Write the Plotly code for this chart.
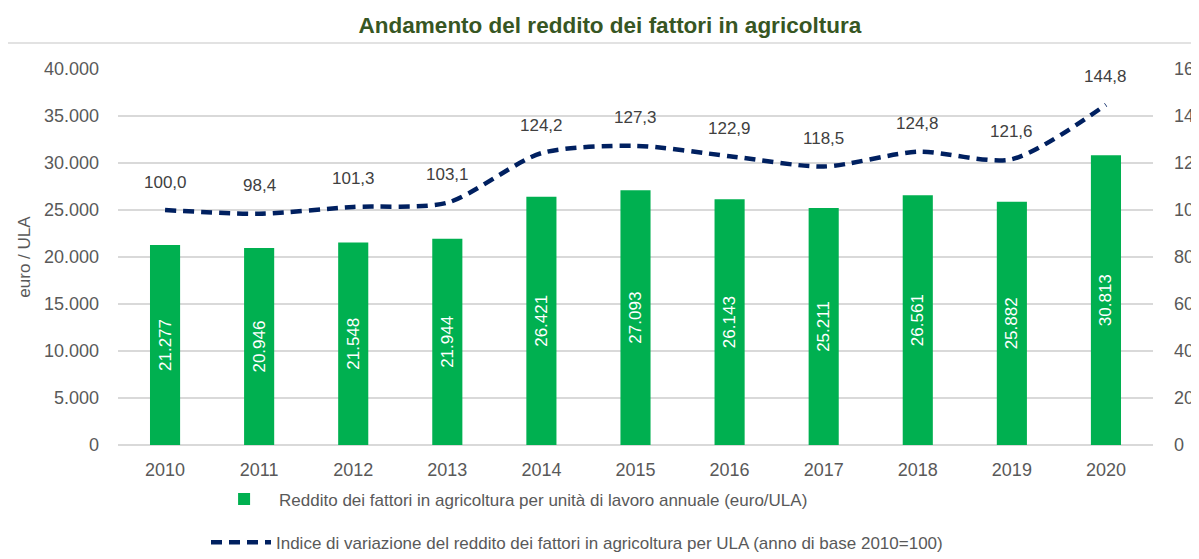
import plotly.graph_objects as go

years = ["2010", "2011", "2012", "2013", "2014", "2015", "2016", "2017", "2018", "2019", "2020"]
reddito = [21277, 20946, 21548, 21944, 26421, 27093, 26143, 25211, 26561, 25882, 30813]
indice = [100.0, 98.4, 101.3, 103.1, 124.2, 127.3, 122.9, 118.5, 124.8, 121.6, 144.8]
left_ticks = [0, 5000, 10000, 15000, 20000, 25000, 30000, 35000, 40000]
right_ticks = [0, 20, 40, 60, 80, 100, 120, 140, 160]

FONT = "Liberation Sans Narrow, Arial Narrow, Liberation Sans, Arial, sans-serif"
GREEN = "#00B050"
NAVY = "#002060"
GREY = "#595959"

fig = go.Figure()
fig.add_trace(go.Bar(
    x=years, y=reddito, name="Reddito dei fattori in agricoltura per unità di lavoro annuale (euro/ULA)",
    marker=dict(color=GREEN, line=dict(width=0)),
    texttemplate="%{y:,.0f}", textposition="inside", insidetextanchor="middle",
    textangle=-90, textfont=dict(color="white", size=17, family=FONT),
    legend="legend", showlegend=True,
))
fig.add_trace(go.Scatter(
    x=years, y=indice, yaxis="y2", mode="lines",
    name="Indice di variazione del reddito dei fattori in agricoltura per ULA (anno di base 2010=100)",
    line=dict(color=NAVY, width=4.5, dash="11px,7px", shape="spline", smoothing=0.75),
    legend="legend2", showlegend=True,
))

annotations = []
for i, v in enumerate(indice):
    annotations.append(dict(
        x=i, y=v, xref="x", yref="y2", text=f"{v:.1f}".replace(".", ","),
        showarrow=False, yshift=28, font=dict(size=17, color="#404040", family=FONT),
    ))

fig.update_layout(
    width=1199, height=559,
    margin=dict(l=110, r=54, t=61, b=122, autoexpand=False),
    showlegend=True,
    paper_bgcolor="white", plot_bgcolor="white",
    separators=",.",
    font=dict(family=FONT, color=GREY, size=17),
    title=dict(text="<b>Andamento del reddito dei fattori in agricoltura</b>",
               x=0.502, xanchor="center", y=0.97, yanchor="middle",
               font=dict(size=22.5, color="#375623", family=FONT)),
    xaxis=dict(type="category", range=[-0.5, len(years) - 0.5], showgrid=False, showline=False,
               ticks="", tickfont=dict(size=18, color=GREY), ticklabelstandoff=12,
               automargin=False),
    yaxis=dict(range=[0, 40000], tickvals=left_ticks, tickformat=",.0f",
               showgrid=True, gridcolor="#D9D9D9", gridwidth=1.5, zeroline=True,
               zerolinecolor="#D9D9D9", zerolinewidth=1.5,
               tickfont=dict(size=18, color=GREY), ticklabelstandoff=18, automargin=False,
               title=dict(text="euro / ULA", font=dict(size=17, color=GREY), standoff=8)),
    yaxis2=dict(range=[0, 160], tickvals=right_ticks, overlaying="y", side="right",
                showgrid=False, zeroline=False, tickfont=dict(size=18, color=GREY),
                ticklabelstandoff=20, automargin=False),
    legend=dict(x=0.088, xanchor="left", y=-0.145, yanchor="middle", orientation="v",
                font=dict(size=17, color=GREY), bgcolor="rgba(0,0,0,0)", itemwidth=60),
    legend2=dict(x=0.085, xanchor="left", y=-0.26, yanchor="middle", orientation="v",
                 font=dict(size=17, color=GREY), bgcolor="rgba(0,0,0,0)", itemwidth=60),
    annotations=annotations,
    shapes=[dict(type="rect", xref="paper", yref="paper", x0=-0.107, x1=1.2, y0=-0.6, y1=1.069,
                 line=dict(color="#D9D9D9", width=1.5), fillcolor="rgba(0,0,0,0)", layer="below")],
    bargap=0.68,
)

fig.write_html("out.html")
